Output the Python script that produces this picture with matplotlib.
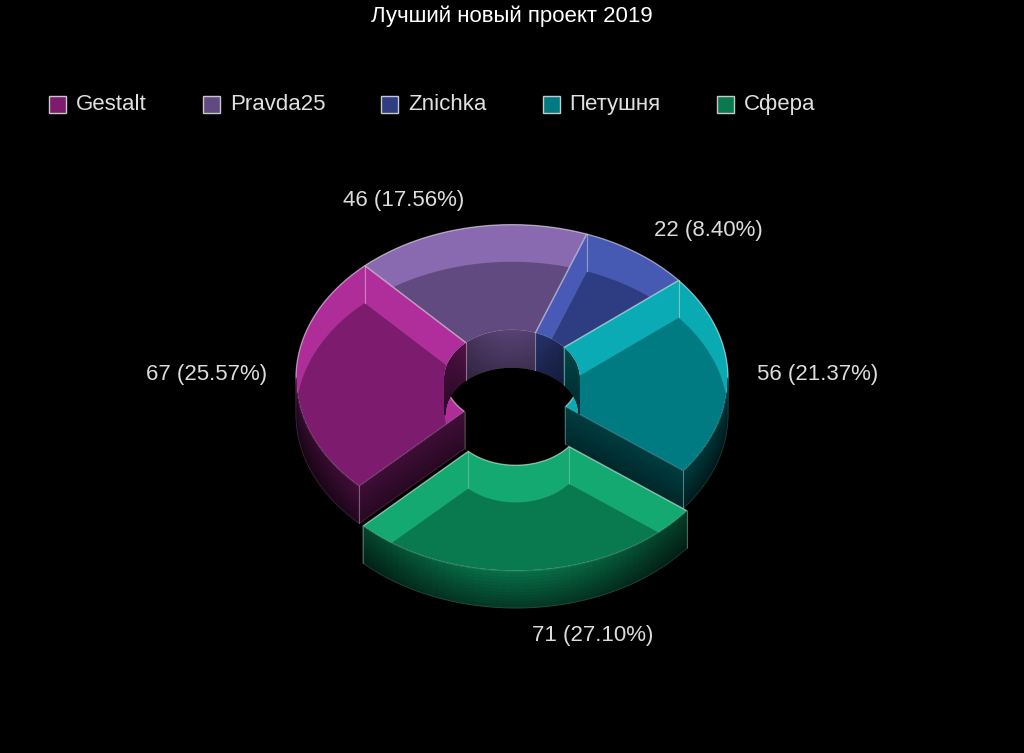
import numpy as np
import matplotlib
matplotlib.use('Agg')
import matplotlib.pyplot as plt
from matplotlib.patches import Polygon, Rectangle
from matplotlib.collections import PolyCollection
from matplotlib.colors import to_rgb

title = 'Лучший новый проект 2019'
projects = ['Gestalt', 'Pravda25', 'Znichka', 'Петушня', 'Сфера']
votes = [67, 46, 22, 56, 71]
colors = ['#7e1b6e', '#624a80', '#2f3d82', '#017b82', '#097a50']

plt.rcParams['font.family'] = ['Liberation Sans', 'DejaVu Sans']

# layout in pixels (y grows downward)
W, H = 1024, 753
cx, cy = 512, 378
r_out, r_in = 216, 67
tilt = 0.71
depth = 37
pull = 56
start = 135.0
label_r = 245
pulled = {'Сфера'}
top_alpha = 0.72

fig = plt.figure(figsize=(W / 100, H / 100), dpi=100, facecolor='black')
ax = fig.add_axes([0, 0, 1, 1])
ax.set_xlim(0, W)
ax.set_ylim(H, 0)
ax.axis('off')


def proj(t, r, z, off):
    t = np.radians(t)
    return off[0] + cx + r * np.cos(t), off[1] + cy + r * tilt * np.sin(t) + z


def arc(t0, t1, r, z, off):
    n = max(2, int(abs(t1 - t0)) + 2)
    x, y = proj(np.linspace(t0, t1, n), r, z, off)
    return np.column_stack([x, y])


def halves(t0, t1):
    # split an angle range where the facing of a curved wall flips
    pts = [t0]
    k = np.floor(t0 / 180) + 1
    while k * 180 < t1:
        pts.append(k * 180)
        k += 1
    pts.append(t1)
    return list(zip(pts[:-1], pts[1:]))


def curved_wall(t0, t1, r, off):
    return np.vstack([arc(t0, t1, r, 0, off), arc(t1, t0, r, depth, off)])


def radial_wall(t, off):
    p = [proj(t, r_out, 0, off), proj(t, r_in, 0, off),
         proj(t, r_in, depth, off), proj(t, r_out, depth, off)]
    return np.array(p)


def clip(c):
    return tuple(np.clip(c, 0, 1))


def shaded_band(t0, t1, r, off, lum_fn, fade, quads, fcs, base):
    nz = 12
    ts = np.linspace(t0, t1, max(2, int((t1 - t0) / 2) + 2))
    for u0, u1 in zip(ts[:-1], ts[1:]):
        lum = lum_fn(np.sin(np.radians((u0 + u1) / 2)))
        for j in range(nz):
            z0, z1 = depth * j / nz, depth * (j + 1) / nz
            p = [proj(u0, r, z0, off), proj(u1, r, z0, off),
                 proj(u1, r, z1, off), proj(u0, r, z1, off)]
            quads.append(np.array(p))
            fcs.append(clip(base * lum * (1 - fade * (j + 0.5) / nz)))


total = sum(votes)
fracs = [v / total for v in votes]
bounds = start + 360 * np.concatenate([[0], np.cumsum(fracs)])
mids = (bounds[:-1] + bounds[1:]) / 2
order = np.argsort(np.sin(np.radians(mids)))

for i in order:
    a0, a1, mid = bounds[i], bounds[i + 1], mids[i]
    base = np.array(to_rgb(colors[i]))
    off = (0.0, 0.0)
    if projects[i] in pulled:
        off = (pull * np.cos(np.radians(mid)), pull * tilt * np.sin(np.radians(mid)))

    top_c = clip(base / top_alpha)
    hid_c = clip(0.85 * np.clip(base * 1.45, 0, 1) + 0.15)

    hidden, vis_outer, vis_inner, vis_radial = [], [], [], []
    for s0, s1 in halves(a0, a1):
        sm = np.sin(np.radians((s0 + s1) / 2))
        if sm > 0:
            vis_outer.append((s0, s1))
            hidden.append(curved_wall(s0, s1, r_in, off))
        else:
            vis_inner.append((s0, s1))
            hidden.append(curved_wall(s0, s1, r_out, off))
    for t, visible in ((a0, np.cos(np.radians(a0)) < 0), (a1, np.cos(np.radians(a1)) > 0)):
        (vis_radial if visible else hidden).append(radial_wall(t, off))

    # faces turned away, seen through the glassy top
    for poly in hidden:
        ax.add_patch(Polygon(poly, closed=True, fc=(*hid_c, 0.9),
                             ec=(1, 1, 1, 0.15), lw=0.6))

    # top face
    top = np.vstack([arc(a0, a1, r_out, 0, off), arc(a1, a0, r_in, 0, off)])
    ax.add_patch(Polygon(top, closed=True, fc=(*top_c, top_alpha),
                         ec=(1, 1, 1, 0.45), lw=1.0))

    # faces turned toward the viewer, shaded
    quads, fcs = [], []
    for s0, s1 in vis_outer:
        shaded_band(s0, s1, r_out, off, lambda s: 0.42 + 0.5 * s ** 4, 0.5, quads, fcs, base)
    for s0, s1 in vis_inner:
        shaded_band(s0, s1, r_in, off, lambda s: 0.5 + 0.4 * max(0, -s) ** 3, 0.25, quads, fcs, base)
    nz = 12
    for poly in vis_radial:
        for j in range(nz):
            f0, f1 = j / nz, (j + 1) / nz
            p = [poly[0] + (poly[3] - poly[0]) * f0, poly[1] + (poly[2] - poly[1]) * f0,
                 poly[1] + (poly[2] - poly[1]) * f1, poly[0] + (poly[3] - poly[0]) * f1]
            quads.append(np.array(p))
            fcs.append(clip(base * 0.5 * (1 - 0.35 * (j + 0.5) / nz)))
    if quads:
        ax.add_collection(PolyCollection(quads, facecolors=fcs, edgecolors=fcs, linewidths=0.6))
    for s0, s1 in vis_outer:
        ax.add_patch(Polygon(curved_wall(s0, s1, r_out, off), closed=True, fc='none',
                             ec=(1, 1, 1, 0.12), lw=0.6))
    for poly in vis_radial:
        ax.add_patch(Polygon(poly, closed=True, fc='none', ec=(1, 1, 1, 0.12), lw=0.6))

    # vertical corner edges
    for t in (a0, a1):
        for r in (r_out, r_in):
            x0, y0 = proj(t, r, 0, off)
            x1, y1 = proj(t, r, depth, off)
            ax.plot([x0, x1], [y0, y1], color=(1, 1, 1, 0.22), lw=0.8)

    # value label
    ca, sa = np.cos(np.radians(mid)), np.sin(np.radians(mid))
    lx = off[0] + cx + label_r * ca
    ly = off[1] + cy + label_r * 0.74 * sa + depth * max(sa, 0)
    ax.text(lx, ly, f'{votes[i]} ({fracs[i] * 100:.2f}%)', color='#dcdcdc',
            fontsize=16, ha='left' if ca >= 0 else 'right', va='center')

ax.text(W / 2, 16, title, color='white', fontsize=16, ha='center', va='center')

# legend row
renderer = fig.canvas.get_renderer()
x = 49
for name, c in zip(projects, colors):
    ax.add_patch(Rectangle((x, 95.5), 17, 17, fc=c, ec='#c8c8c8', lw=1))
    t = ax.text(x + 27, 104, name, color='#e0e0e0', fontsize=16, ha='left', va='center')
    x = x + 27 + t.get_window_extent(renderer=renderer).width + 56

fig.savefig('out.png', dpi=100, facecolor='black')
